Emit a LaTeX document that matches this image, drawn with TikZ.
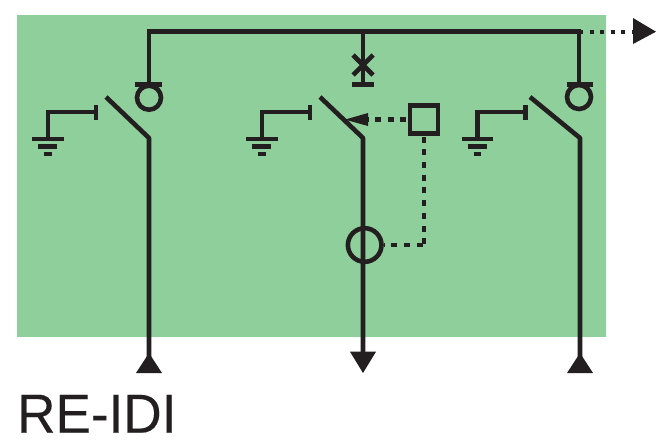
\documentclass[tikz,border=0pt]{standalone}
\usepackage{fontspec}
\setmainfont{Liberation Sans}
\newfontfamily\titlefont[FakeBold=0.25,FakeStretch=0.965]{Liberation Sans}
\definecolor{panel}{HTML}{8FCF9B}
\definecolor{ink}{HTML}{231F20}
\tikzset{
  x=1pt,y=-1pt,
  wire/.style={draw=ink,line width=4.6pt},
  ctl/.style={draw=ink,line width=4.4pt,dash pattern=on 6pt off 6.7pt},
  dots/.style={draw=ink,line width=4.4pt,dash pattern=on 4pt off 6.5pt},
  ring/.style={circle,draw=ink,line width=4.6pt,inner sep=0pt},
  box/.style={rectangle,draw=ink,line width=4.6pt,inner sep=0pt,minimum size=28pt},
  head/.style={fill=ink,draw=none},
}
\newcommand{\earthgnd}[1]{%
  \begin{scope}[shift={(#1,0)}]
    \draw[wire] (96,105) -- (96,120);
    \draw[wire] (96,112) -- (48,112) -- (48,139);
    \draw[wire] (32,139) -- (63.5,139);
    \draw[wire] (38,146.7) -- (57,146.7);
    \draw[wire] (44,154) -- (51.5,154);
  \end{scope}}
\begin{document}
\begin{tikzpicture}
\useasboundingbox (0,0) rectangle (671,445);
\fill[panel] (17,15) rectangle (606,337);

% coordinates
\coordinate (busL) at (149,31.7);
\coordinate (busM) at (363,31.7);
\coordinate (busR) at (579,31.7);
\coordinate (barL) at (149,84.7);
\coordinate (barM) at (363,84.7);
\coordinate (barR) at (579,84.7);
\coordinate (pivL) at (149,138);
\coordinate (pivM) at (363,138);
\coordinate (pivR) at (580,138);
\coordinate (endL) at (149,358);
\coordinate (endM) at (363,356);
\coordinate (endR) at (580,358);
\coordinate (outE) at (634,31.7);
\coordinate (tap) at (424,245);
\coordinate (tapW) at (422.7,245);

% nodes
\node[ring,minimum size=24pt] (cL) at (149,97.7) {};
\node[ring,minimum size=24pt] (cR) at (579,97) {};
\node[ring,minimum size=33.6pt] (ct) at (364.7,245) {};
\node[box] (relay) at (424,119.6) {};
\coordinate (tipA) at (368,119.6);

% bus
\draw[wire,line join=miter] (barL) -- (busL) -- (busR) -- (barR);
\draw[wire] (busM) -- (barM);

% T bars over the rings
\draw[wire] (135,84.7) -- (162,84.7);
\draw[wire] (352,84.7) -- (374,84.7);
\draw[wire] (567,84.7) -- (593,84.7);

% cross on the middle branch
\draw[wire] (353,55) -- (373,75);
\draw[wire] (373,55) -- (353,75);

% blades and outgoing lines
\draw[wire,line join=bevel] (106,97) -- (pivL) -- (endL);
\draw[wire,line join=bevel] (320,97) -- (pivM) -- (endM);
\draw[wire,line join=bevel] (530,97) -- (pivR) -- (endR);

% earths
\earthgnd{0}
\earthgnd{214}
\earthgnd{429.7}

% terminal arrowheads
\fill[head] (149,353) -- (162,373) -- (136,373) -- cycle;
\fill[head] (350,351.7) -- (376,351.7) -- (363,373) -- cycle;
\fill[head] (580,353) -- (593,373) -- (567,373) -- cycle;
\fill[head] (633,18) -- (656,31.7) -- (633,44) -- cycle;

% dotted control lines
\draw[dots] (busR) -- (outE);
\fill[head] (345,119.6) -- (368,113) -- (368,126) -- cycle;
\draw[ctl,dash phase=11.4pt] (relay.west) -- (tipA);
\draw[ctl,dash phase=12pt] (relay.south) -- (tap);
\draw[ctl] (tapW) -- (ct.east);

% label
\node[anchor=base west,inner sep=0pt,text=ink,font=\titlefont\fontsize{55}{55}\selectfont] (title) at (17,432.7) {RE-IDI};
\end{tikzpicture}
\end{document}
